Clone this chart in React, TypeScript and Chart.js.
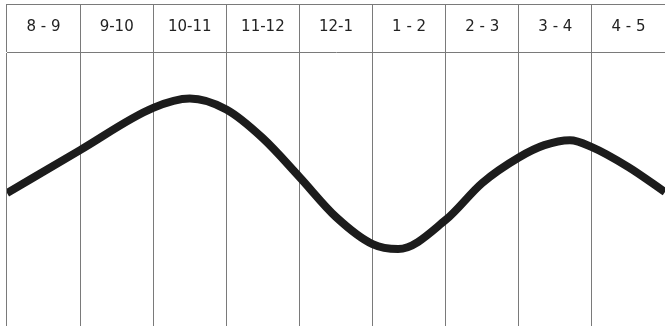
import React, { useEffect, useRef } from "react";
import { Chart, registerables } from "chart.js";

Chart.register(...registerables);

// Header categories (time slots)
const slots = ["8 - 9", "9-10", "10-11", "11-12", "12-1", "1 - 2", "2 - 3", "3 - 4", "4 - 5"];

// Curve samples: hour of day (8 = 8am ... 17 = 5pm) and level (0..10)
const hours = [8, 9, 10, 10.5, 11, 11.5, 12, 12.5, 13, 13.35, 14, 14.5, 15, 15.35, 15.7, 16, 16.5, 17];
const levels = [4.85, 6.42, 7.96, 8.3, 7.9, 6.85, 5.44, 3.98, 2.99, 2.81, 3.87, 5.22, 6.15, 6.6, 6.78, 6.53, 5.8, 4.89];

const hourMin = 8;
const hourMax = 17;
const levelMin = 0;
const levelMax = 10;

const GRID = "#7a7a7a";

const headerTopBorder = {
  id: "headerTopBorder",
  afterDraw(chart: any) {
    const s = chart.scales.xTop;
    const ctx = chart.ctx;
    ctx.save();
    ctx.strokeStyle = GRID;
    ctx.lineWidth = 1;
    ctx.beginPath();
    const y = Math.round(s.top) + 0.5;
    ctx.moveTo(chart.chartArea.left, y);
    ctx.lineTo(chart.chartArea.right, y);
    ctx.stroke();
    ctx.restore();
  },
};

export default function App() {
  const ref = useRef<HTMLCanvasElement | null>(null);

  useEffect(() => {
    if (!ref.current) return;
    const chart = new Chart(ref.current, {
      type: "line",
      data: {
        datasets: [
          {
            data: hours.map((h, i) => ({ x: h, y: levels[i] })),
            borderColor: "#1c1c1c",
            borderWidth: 8,
            borderCapStyle: "butt",
            borderJoinStyle: "round",
            pointRadius: 0,
            cubicInterpolationMode: "monotone",
            fill: false,
            xAxisID: "x",
            yAxisID: "y",
          },
        ],
      },
      options: {
        animation: false,
        responsive: true,
        maintainAspectRatio: false,
        layout: { padding: { left: 7, top: 4, right: 0, bottom: 0 } },
        plugins: { legend: { display: false }, tooltip: { enabled: false } },
        scales: {
          x: {
            type: "linear",
            min: hourMin,
            max: hourMax,
            display: false,
          },
          xTop: {
            type: "category",
            position: "top",
            labels: slots,
            offset: true,
            afterFit: (scale: any) => {
              scale.height = 48;
            },
            grid: {
              offset: true,
              color: (ctx: any) => (ctx.index === slots.length ? "transparent" : GRID),
              lineWidth: 1,
              drawTicks: true,
              tickLength: 48,
            },
            border: { display: true, color: GRID, width: 1 },
            ticks: {
              color: "#222",
              font: { family: "DejaVu Sans", size: 15 },
              padding: -32,
              maxRotation: 0,
              autoSkip: false,
            },
          },
          y: {
            type: "linear",
            min: levelMin,
            max: levelMax,
            display: false,
          },
        },
      },
      plugins: [headerTopBorder],
    });
    return () => chart.destroy();
  }, []);

  return (
    <div style={{ position: "fixed", left: 0, top: 0, width: 665, height: 326, background: "#fff" }}>
      <canvas ref={ref} />
    </div>
  );
}
